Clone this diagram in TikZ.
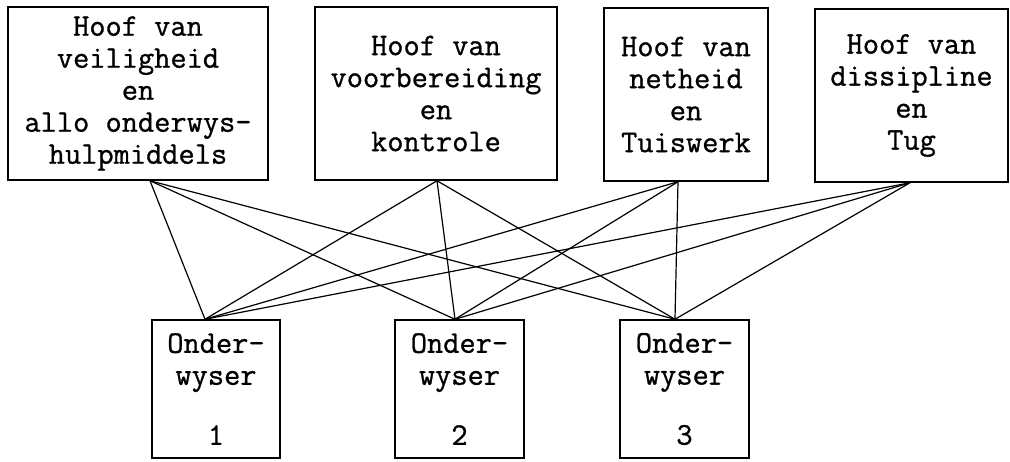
\documentclass[tikz,border=0pt]{standalone}
\usepackage{fontspec}
\newfontfamily\typewriter{lmmono12-regular.otf}[UprightFeatures={FakeBold=0.9}]
\begin{document}
\begin{tikzpicture}[x=1pt,y=-1pt,
  box/.style={draw, line width=1.5pt, inner sep=0pt, align=center,
    font=\typewriter\fontsize{31.5}{32}\selectfont},
  head/.style={box, minimum height=173pt},
  teacher/.style={box, minimum width=129pt, minimum height=138pt},
  link/.style={line width=1.2pt}]
\useasboundingbox (0,0) rectangle (1010,461);

% heads of department
\node[head, minimum width=260pt] (h1) at (138,93.5)
  {Hoof van\\veiligheid\\en\\allo onderwys-\\hulpmiddels};
\node[head, minimum width=242pt] (h2) at (436,93.5)
  {Hoof van\\voorbereiding\\en\\kontrole};
\node[head, minimum width=164pt] (h3) at (686,94.5)
  {Hoof van\\netheid\\en\\Tuiswerk};
\node[head, minimum width=193pt] (h4) at (911.5,95.5)
  {Hoof van\\dissipline\\en\\Tug};

% teachers
\node[teacher, minimum width=128pt] (o1) at (216,389) {Onder-\\wyser\\[28pt]1};
\node[teacher] (o2) at (459.5,389) {Onder-\\wyser\\[28pt]2};
\node[teacher] (o3) at (684.5,389) {Onder-\\wyser\\[28pt]3};

% meeting points of the connectors
\coordinate (a1) at ([xshift=12pt]h1.south);
\coordinate (a2) at ([xshift=1pt]h2.south);
\coordinate (a3) at ([xshift=-8pt]h3.south);
\coordinate (a4) at ([xshift=-1.5pt]h4.south);
\coordinate (b1) at ([xshift=-11pt]o1.north);
\coordinate (b2) at ([xshift=-4.5pt]o2.north);
\coordinate (b3) at ([xshift=-9.5pt]o3.north);

% every head is linked to every teacher
\foreach \i in {1,...,4}
  \foreach \j in {1,2,3}
    \draw[link] (a\i) -- (b\j);
\end{tikzpicture}
\end{document}
